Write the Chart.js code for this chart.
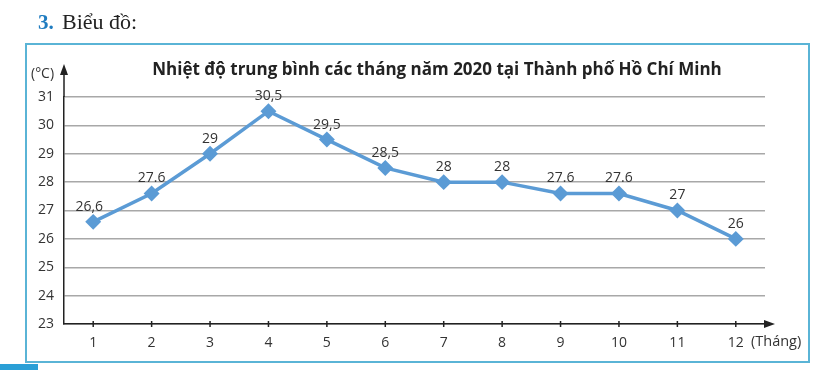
<!DOCTYPE html>
<html>
<head>
<meta charset="utf-8">
<script src="https://cdn.jsdelivr.net/npm/chart.js@4/dist/chart.umd.min.js"></script>
<style>
  html, body { margin: 0; padding: 0; background: #fff; }
  #wrap { width: 828px; height: 370px; }
</style>
</head>
<body>
<div id="wrap"><canvas id="chart" width="828" height="370"></canvas></div>
<script>
// Data
const months = ["1", "2", "3", "4", "5", "6", "7", "8", "9", "10", "11", "12"];
const temps = [26.6, 27.6, 29, 30.5, 29.5, 28.5, 28, 28, 27.6, 27.6, 27, 26];
const tempLabels = ["26,6", "27.6", "29", "30,5", "29,5", "28,5", "28", "28", "27.6", "27.6", "27", "26"];

const chartTitle = "Nhiệt độ trung bình các tháng năm 2020 tại Thành phố Hồ Chí Minh";
const lineColor = "#5b9bd5";
const font = "'Open Sans', 'Noto Sans', sans-serif";

// Draws the frame, heading, arrows, tick marks and point labels
const decorations = {
    id: "decorations",
    beforeDraw(chart) {
        const c = chart.ctx;
        c.save();
        c.fillStyle = "#fff";
        c.fillRect(0, 0, chart.width, chart.height);

        // heading "3. Biểu đồ:"
        c.textBaseline = "alphabetic";
        c.textAlign = "left";
        c.fillStyle = "#1f7cc0";
        c.font = "bold 21px 'Liberation Serif', serif";
        c.fillText("3.", 38, 29);
        c.fillStyle = "#222";
        c.font = "22px 'Liberation Serif', serif";
        c.fillText("Biểu đồ:", 62, 29);

        // frame
        c.strokeStyle = "#5ab4d6";
        c.lineWidth = 2;
        c.strokeRect(26, 44, 783, 318);
        c.fillStyle = "#2a9fd6";
        c.fillRect(0, 364, 38, 6);
        c.restore();
    },
    afterDraw(chart) {
        const c = chart.ctx;
        const area = chart.chartArea;
        const x = chart.scales.x;
        c.save();

        // title
        c.fillStyle = "#222";
        c.font = "bold 17px " + font;
        c.textAlign = "center";
        c.textBaseline = "middle";
        c.fillText(chartTitle, 437, 70);

        // axis extensions with arrows
        c.strokeStyle = "#222";
        c.fillStyle = "#222";
        c.lineWidth = 1.5;
        c.beginPath();
        c.moveTo(area.left, area.top);
        c.lineTo(area.left, 70);
        c.moveTo(area.right, area.bottom);
        c.lineTo(768, area.bottom);
        c.stroke();
        c.beginPath();
        c.moveTo(area.left, 64);
        c.lineTo(area.left - 4, 75);
        c.lineTo(area.left + 4, 75);
        c.closePath();
        c.fill();
        c.beginPath();
        c.moveTo(775, area.bottom);
        c.lineTo(764, area.bottom - 4);
        c.lineTo(764, area.bottom + 4);
        c.closePath();
        c.fill();

        // tick marks on the x axis
        months.forEach((m, i) => {
            const px = x.getPixelForValue(i);
            c.beginPath();
            c.moveTo(px, area.bottom - 3);
            c.lineTo(px, area.bottom + 3);
            c.stroke();
        });

        // unit labels
        c.font = "14px " + font;
        c.textAlign = "left";
        c.textBaseline = "middle";
        c.fillStyle = "#333";
        c.fillText("(°C)", 31, 74);
        c.font = "14.5px " + font;
        c.fillText("(Tháng)", 751, 342);

        // value labels
        c.font = "14px " + font;
        c.textAlign = "center";
        c.textBaseline = "bottom";
        const meta = chart.getDatasetMeta(0);
        meta.data.forEach((pt, i) => {
            const dx = i === 0 ? -4 : 0;
            c.fillText(tempLabels[i], pt.x + dx, pt.y - 8);
        });
        c.restore();
    }
};

new Chart(document.getElementById("chart"), {
    type: "line",
    data: {
        labels: months,
        datasets: [{
            data: temps,
            borderColor: lineColor,
            backgroundColor: lineColor,
            borderWidth: 3.5,
            pointStyle: "rectRot",
            pointRadius: 5.5,
            pointHoverRadius: 5.5,
            tension: 0,
            fill: false
        }]
    },
    options: {
        responsive: false,
        animation: false,
        events: [],
        layout: { padding: { top: 97, left: 0, right: 63, bottom: 16 } },
        plugins: {
            legend: { display: false },
            tooltip: { enabled: false },
            title: { display: false }
        },
        scales: {
            x: {
                type: "category",
                offset: true,
                grid: { display: false, drawTicks: false },
                border: { display: true, color: "#222", width: 1.5 },
                ticks: { color: "#333", font: { size: 14, family: font }, padding: 11, maxRotation: 0 },
                afterFit(scale) { scale.height = 30; }
            },
            y: {
                min: 23,
                max: 31,
                grid: { color: "#a8a8a8", lineWidth: 1.5, drawTicks: false },
                border: { display: true, color: "#222", width: 1.5 },
                ticks: { stepSize: 1, color: "#333", font: { size: 14, family: font }, padding: 10 },
                afterFit(scale) { scale.width = 64; }
            }
        }
    },
    plugins: [decorations]
});
</script>
</body>
</html>
